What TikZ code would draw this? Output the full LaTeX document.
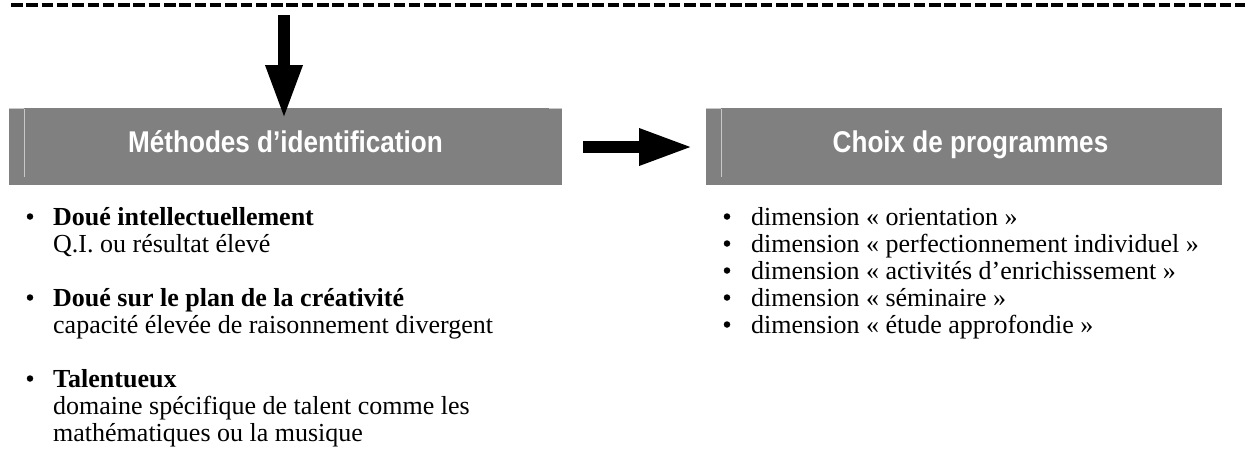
\documentclass[tikz,border=0pt]{standalone}
\usepackage{fontspec}
\setmainfont{Liberation Serif}
\newfontfamily\hdr[FakeStretch=0.87]{Liberation Sans}
\usetikzlibrary{arrows.meta}
\definecolor{boxgray}{RGB}{128,128,128}
\definecolor{edgegray}{RGB}{200,200,200}
\tikzset{
  hbox/.style={fill=boxgray, draw=none, inner sep=0pt, minimum height=77pt},
  htext/.style={text=white, font=\hdr\bfseries\fontsize{30}{34}\selectfont, inner sep=0pt, anchor=base},
  blockarrow/.style={line width=12pt, -{Triangle[length=54pt,width=34pt]}},
  bul/.style={circle, fill=black, inner sep=0pt, minimum size=6.5pt, yshift=8.5pt},
  item/.style={anchor=base west, inner sep=0pt, font=\fontsize{26}{28}\selectfont},
  bitem/.style={item, font=\fontsize{26}{28}\selectfont\bfseries},
}
\begin{document}
\begin{tikzpicture}[x=1pt,y=-1pt]
\useasboundingbox (0,0) rectangle (1245,451);
% dashed top line
\coordinate (dl) at (11,5);
\coordinate (dr) at (1245,5);
\draw[line width=3.5pt, dash pattern=on 11.5pt off 3.8pt] (dl) -- (dr);
% boxes
\node[hbox, minimum width=553pt, anchor=north west] (m) at (9,108) {};
\node[hbox, minimum width=516pt, anchor=north west] (c) at (706,108) {};
\draw[edgegray, line width=1pt] (24,108.5) -- (24,177);
\draw[edgegray, line width=1pt] (9,108.5) -- (24,108.5);
\draw[edgegray, line width=1pt] (549,108.5) -- (562,108.5);
\draw[edgegray, line width=1pt] (721,108.5) -- (721,177);
\draw[edgegray, line width=1pt] (706,108.5) -- (721,108.5);
\node[htext] (mt) at (285.5,152) {Méthodes d’identification};
\node[htext] (ct) at (970.5,152) {Choix de programmes};
% arrows
\coordinate (dtop) at (284,15);
\draw[blockarrow] (dtop) -- ([yshift=-11pt]m.north -| dtop);
\draw[blockarrow, shorten <=21pt, shorten >=13pt] (m.east |- 0,147) -- (c.west |- 0,147);
% left list
\node[bul] (b1) at (30,225) {};
\node[bitem] (i1a) at (53,225) {Doué intellectuellement};
\node[item] (i1b) at (53,252) {Q.I. ou résultat élevé};
\node[bul] (b2) at (30,306) {};
\node[bitem] (i2a) at (53,306) {Doué sur le plan de la créativité};
\node[item] (i2b) at (53,333) {capacité élevée de raisonnement divergent};
\node[bul] (b3) at (30,387) {};
\node[bitem] (i3a) at (53,387) {Talentueux};
\node[item] (i3b) at (53,414) {domaine spécifique de talent comme les};
\node[item] (i3c) at (53,441) {mathématiques ou la musique};
% right list
\node[bul] (r1) at (727,225) {};
\node[item] (s1) at (751,225) {dimension « orientation »};
\node[bul] (r2) at (727,252) {};
\node[item] (s2) at (751,252) {dimension « perfectionnement individuel »};
\node[bul] (r3) at (727,279) {};
\node[item] (s3) at (751,279) {dimension « activités d’enrichissement »};
\node[bul] (r4) at (727,306) {};
\node[item] (s4) at (751,306) {dimension « séminaire »};
\node[bul] (r5) at (727,333) {};
\node[item] (s5) at (751,333) {dimension « étude approfondie »};
\end{tikzpicture}
\end{document}
